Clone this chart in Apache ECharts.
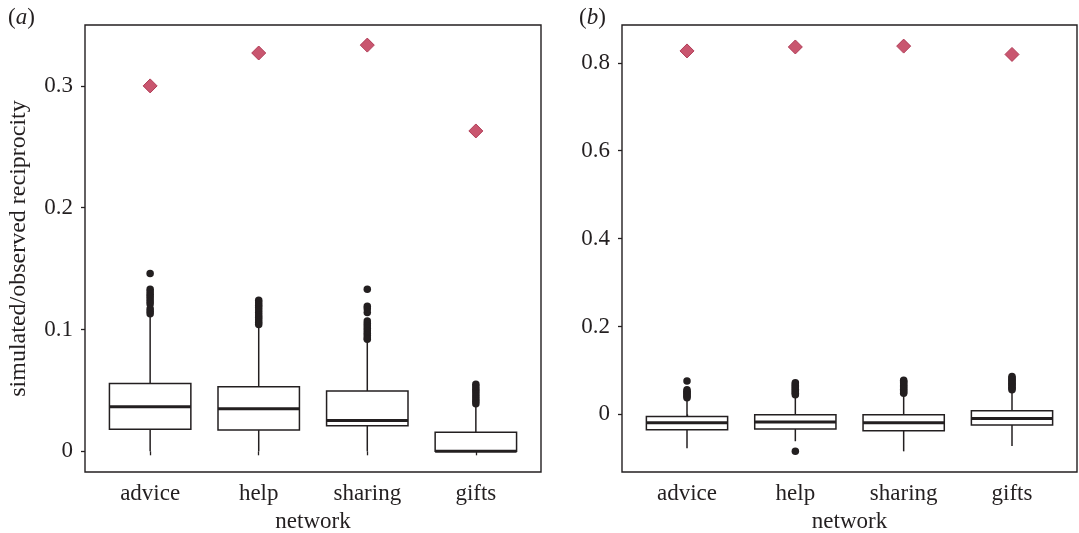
<!DOCTYPE html>
<html>
<head>
<meta charset="utf-8">
<script src="https://cdn.jsdelivr.net/npm/echarts@6/dist/echarts.min.js"></script>
<style>html,body{margin:0;padding:0;background:#fff}#c{width:1079px;height:533px}</style>
</head>
<body>
<div id="c"></div>
<script>
// ---- data ----
const categories = ['advice', 'help', 'sharing', 'gifts'];

// panel (a): [lower whisker, Q1, median, Q3, upper whisker]
const boxesA = [
  [0, 0.018, 0.0365, 0.0556, 0.112],
  [0, 0.0174, 0.035, 0.053, 0.103],
  [0, 0.0209, 0.0253, 0.0495, 0.091],
  [0, 0, 0, 0.0157, 0.037]
];
const outliersA = [
  [0.146, 0.133, 0.131, 0.129, 0.127, 0.125, 0.123, 0.121, 0.117, 0.115, 0.113],
  [0.124, 0.122, 0.120, 0.118, 0.116, 0.114, 0.112, 0.110, 0.108, 0.106, 0.104],
  [0.133, 0.119, 0.117, 0.114, 0.107, 0.105, 0.103, 0.101, 0.099, 0.097, 0.095, 0.093, 0.092],
  [0.055, 0.053, 0.051, 0.049, 0.047, 0.045, 0.043, 0.041, 0.039]
];
const observedA = [0.300, 0.327, 0.3335, 0.263];
const ticksA = [0, 0.1, 0.2, 0.3];

// panel (b)
const boxesB = [
  [-0.077, -0.035, -0.019, -0.0046, 0.035],
  [-0.061, -0.033, -0.017, -0.0008, 0.042],
  [-0.084, -0.037, -0.019, -0.0008, 0.046],
  [-0.072, -0.024, -0.009, 0.0084, 0.054]
];
const outliersB = [
  [0.076, 0.056, 0.053, 0.050, 0.047, 0.044, 0.041, 0.038],
  [0.072, 0.069, 0.066, 0.063, 0.060, 0.057, 0.054, 0.051, 0.048, 0.045, -0.084],
  [0.078, 0.075, 0.072, 0.069, 0.066, 0.063, 0.060, 0.057, 0.054, 0.051, 0.048],
  [0.086, 0.083, 0.080, 0.077, 0.074, 0.071, 0.068, 0.065, 0.062, 0.059, 0.056]
];
const observedB = [0.827, 0.836, 0.838, 0.819];
const ticksB = [0, 0.2, 0.4, 0.6, 0.8];

const yRangeA = [-0.017, 0.350];
const yRangeB = [-0.131, 0.886];

// ---- styles ----
const FONT = 'Liberation Serif';
const INK = '#231f20';
const FS = 23;
const catPos = categories.map((c, i) => i + 1);

function boxData(boxes) { return boxes.map((b, i) => [catPos[i]].concat(b)); }
function outlierData(outs) {
  const r = [];
  outs.forEach((arr, i) => arr.forEach(v => r.push([catPos[i], v])));
  return r;
}
function obsData(obs) { return obs.map((v, i) => [catPos[i], v]); }

function renderBox(params, api) {
  const x = api.value(0);
  const lo = api.coord([x, api.value(1)]);
  const q1 = api.coord([x, api.value(2)]);
  const md = api.coord([x, api.value(3)]);
  const q3 = api.coord([x, api.value(4)]);
  const hi = api.coord([x, api.value(5)]);
  const hw = api.size([0.75, 0])[0] / 2;
  const cx = q1[0];
  const ls = { stroke: INK, lineWidth: 1.5, fill: null, lineCap: 'butt' };
  return {
    type: 'group',
    children: [
      { type: 'line', shape: { x1: cx, y1: q1[1], x2: cx, y2: lo[1] }, style: ls },
      { type: 'line', shape: { x1: cx, y1: q3[1], x2: cx, y2: hi[1] }, style: ls },
      { type: 'rect', shape: { x: cx - hw, y: q3[1], width: 2 * hw, height: q1[1] - q3[1] },
        style: { stroke: INK, lineWidth: 1.5, fill: '#fff' } },
      { type: 'line', shape: { x1: cx - hw, y1: md[1], x2: cx + hw, y2: md[1] },
        style: { stroke: INK, lineWidth: 3 } }
    ]
  };
}

function xAxisCfg(gi) {
  return {
    type: 'value', gridIndex: gi, min: 0.4, max: 4.6,
    name: 'network', nameLocation: 'middle', nameGap: 38,
    nameTextStyle: { fontFamily: FONT, fontSize: FS, color: INK },
    axisLine: { show: false },
    splitLine: { show: false },
    axisTick: { show: true, length: 4, customValues: catPos, lineStyle: { color: INK, width: 1.3 } },
    axisLabel: { customValues: catPos, margin: 10, fontFamily: FONT, fontSize: FS, color: INK,
      formatter: v => categories[Math.round(v) - 1] || '' }
  };
}
function yAxisCfg(gi, range, ticks, name) {
  return {
    type: 'value', gridIndex: gi, min: range[0], max: range[1],
    name: name, nameLocation: 'middle', nameGap: 54,
    nameTextStyle: { fontFamily: FONT, fontSize: 24, color: INK },
    axisLine: { show: false },
    splitLine: { show: false },
    axisTick: { show: true, length: 4, customValues: ticks, lineStyle: { color: INK, width: 1.3 } },
    axisLabel: { customValues: ticks, margin: 12, fontFamily: FONT, fontSize: FS, color: INK,
      formatter: v => (Math.abs(v) < 1e-9 ? '0' : String(+v.toFixed(1))) }
  };
}

function seriesFor(gi, boxes, outs, obs) {
  return [
    { type: 'custom', xAxisIndex: gi, yAxisIndex: gi, renderItem: renderBox,
      encode: { x: 0, y: [1, 2, 3, 4, 5] }, data: boxData(boxes), z: 2, silent: true },
    { type: 'scatter', xAxisIndex: gi, yAxisIndex: gi, data: outlierData(outs),
      symbol: 'circle', symbolSize: 7.5, itemStyle: { color: INK, opacity: 1 }, z: 3, silent: true },
    { type: 'scatter', xAxisIndex: gi, yAxisIndex: gi, data: obsData(obs),
      symbol: 'diamond', symbolSize: 14,
      itemStyle: { color: '#c9566f', borderColor: '#b13c57', borderWidth: 1, opacity: 1 }, z: 4, silent: true }
  ];
}

const labelRich = {
  p: { fontFamily: FONT, fontSize: FS, fill: INK },
  i: { fontFamily: FONT, fontSize: FS, fontStyle: 'italic', fill: INK }
};

const chart = echarts.init(document.getElementById('c'), null, { renderer: 'canvas' });
chart.setOption({
  animation: false,
  backgroundColor: '#fff',
  grid: [
    { left: 85, top: 25, width: 456, height: 447, outerBoundsMode: 'none', containLabel: false,
      show: true, borderColor: INK, borderWidth: 1.4, backgroundColor: '#fff' },
    { left: 622, top: 25, width: 455, height: 447, outerBoundsMode: 'none', containLabel: false,
      show: true, borderColor: INK, borderWidth: 1.4, backgroundColor: '#fff' }
  ],
  xAxis: [xAxisCfg(0), xAxisCfg(1)],
  yAxis: [yAxisCfg(0, yRangeA, ticksA, 'simulated/observed reciprocity'), yAxisCfg(1, yRangeB, ticksB, '')],
  series: seriesFor(0, boxesA, outliersA, observedA).concat(seriesFor(1, boxesB, outliersB, observedB)),
  graphic: [
    { type: 'text', left: 8, top: 6, style: { text: '{p|(}{i|a}{p|)}', rich: labelRich } },
    { type: 'text', left: 579, top: 6, style: { text: '{p|(}{i|b}{p|)}', rich: labelRich } }
  ]
});
</script>
</body>
</html>
